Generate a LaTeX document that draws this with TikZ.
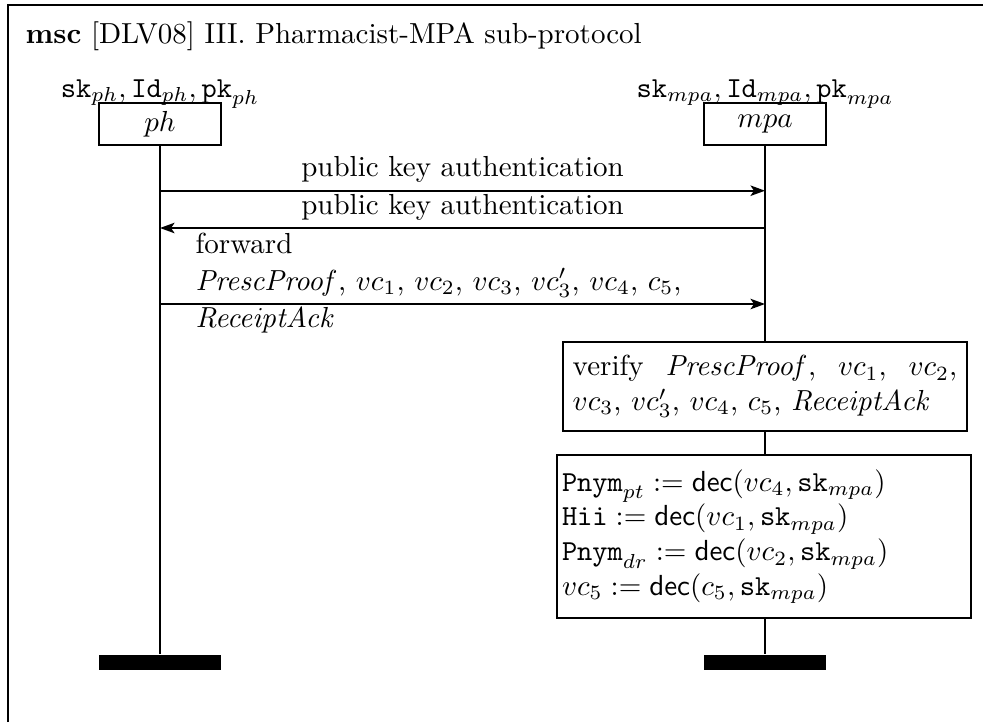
\documentclass[tikz,border=0pt]{standalone}
\usetikzlibrary{arrows.meta}
\begin{document}
\begin{tikzpicture}[x=0.3448pt,y=-0.3448pt,
  inst/.style={draw,line width=0.6pt,minimum width=42pt,minimum height=14.5pt,inner sep=0pt},
  lifeline/.style={line width=0.45pt},
  msg/.style={line width=0.7pt,-{Stealth[length=5pt,width=3.6pt,inset=1.2pt]}},
  endbar/.style={fill=black,draw=none,minimum width=42pt,minimum height=5.3pt,inner sep=0pt},
  action/.style={draw,line width=0.6pt,align=left},
  lbl/.style={inner sep=0pt,anchor=base}
]
\useasboundingbox (0,0) rectangle (983,722);
\coordinate (fbl) at (8,722);
\coordinate (ftl) at (8,5);
\coordinate (ftr) at (983,5);
\draw[line width=0.7pt] (fbl) -- (ftl) -- (ftr);

\node[lbl,anchor=base west] (title) at (25,43) {\textbf{msc} [DLV08] III. Pharmacist-MPA sub-protocol};

% instances
\node[lbl] (phlab) at (160,97) {$\mathtt{sk}_{ph},\mathtt{Id}_{ph},\mathtt{pk}_{ph}$};
\node[inst] (ph) at (160,124) {$ph$};
\node[lbl] (mpalab) at (765,97) {$\mathtt{sk}_{mpa},\mathtt{Id}_{mpa},\mathtt{pk}_{mpa}$};
\node[inst] (mpa) at (765,124) {$mpa$};

% end bars
\node[endbar] (phend) at (160,662.5) {};
\node[endbar] (mpaend) at (765,662.5) {};

% actions
\node[action,text width=132.6pt,minimum height=30.7pt] (verify) at (765,386.5)
  {verify\hfill $\mathit{PrescProof}$,\hfill $vc_1$,\hfill $vc_2$,\\
   $vc_3$, $vc'_3$, $vc_4$, $c_5$, $\mathit{ReceiptAck}$};
\node[action,text width=139.3pt,inner xsep=1.7pt,minimum height=56.2pt] (calc) at (764,536.5)
  {$\mathtt{Pnym}_{pt} := \mathsf{dec}(vc_4, \mathtt{sk}_{mpa})$\\
   $\mathtt{Hii} := \mathsf{dec}(vc_1, \mathtt{sk}_{mpa})$\\
   $\mathtt{Pnym}_{dr} := \mathsf{dec}(vc_2, \mathtt{sk}_{mpa})$\\
   $vc_5 := \mathsf{dec}(c_5, \mathtt{sk}_{mpa})$};

% lifelines
\draw[lifeline] (ph.south) -- (phend.north);
\draw[lifeline] (mpa.south) -- (verify.north -| mpa.south);
\draw[lifeline] (verify.south -| mpa.south) -- (calc.north -| mpa.south);
\draw[lifeline] (calc.south -| mpa.south) -- (mpaend.north);

% messages
\coordinate (m1s) at (160,190.7);
\coordinate (m1e) at (765,190.7);
\coordinate (m2s) at (765,228);
\coordinate (m2e) at (160,228);
\coordinate (m3s) at (160,304);
\coordinate (m3e) at (765,304);
\draw[msg] (m1s) -- (m1e);
\draw[msg] (m2s) -- (m2e);
\draw[msg] (m3s) -- (m3e);
\node[lbl] (l1) at (462.5,176) {public key authentication};
\node[lbl] (l2) at (462.5,214) {public key authentication};
\node[lbl,anchor=base west] (l3a) at (195,253) {forward};
\node[lbl,anchor=base west] (l3b) at (195,290) {$\mathit{PrescProof}$, $vc_1$, $vc_2$, $vc_3$, $vc'_3$, $vc_4$, $c_5$,};
\node[lbl,anchor=base west] (l3c) at (195,327) {$\mathit{ReceiptAck}$};
\end{tikzpicture}
\end{document}
